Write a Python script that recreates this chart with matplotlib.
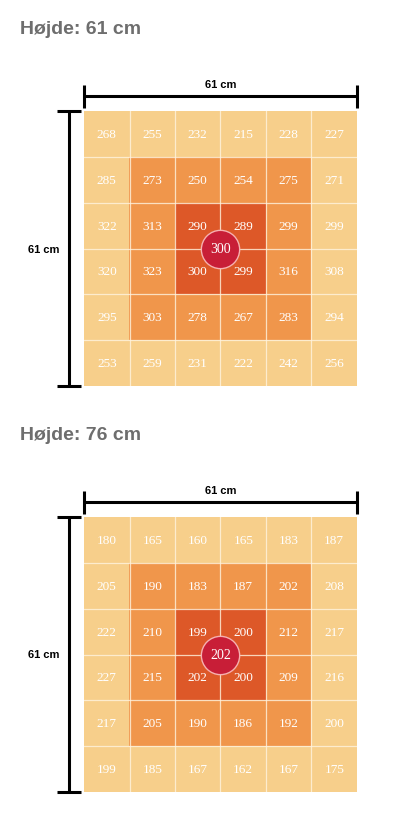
import numpy as np
import matplotlib.pyplot as plt
from matplotlib.colors import ListedColormap

# måleværdier pr. felt (6x6), øverste række først
titles = ["Højde: 61 cm", "Højde: 76 cm"]
grid_61 = [[268, 255, 232, 215, 228, 227],
           [285, 273, 250, 254, 275, 271],
           [322, 313, 290, 289, 299, 299],
           [320, 323, 300, 299, 316, 308],
           [295, 303, 278, 267, 283, 294],
           [253, 259, 231, 222, 242, 256]]
grid_76 = [[180, 165, 160, 165, 183, 187],
           [205, 190, 183, 187, 202, 208],
           [222, 210, 199, 200, 212, 217],
           [227, 215, 202, 200, 209, 216],
           [217, 205, 190, 186, 192, 200],
           [199, 185, 167, 162, 167, 175]]
centers = [300, 202]
side_label = "61 cm"

ring_cmap = ListedColormap(["#f7cf8b", "#f0964b", "#dd5828"])

fig = plt.figure(figsize=(4.03, 8.28), dpi=100)
W, H = 403, 828


def draw_grid(ax, vals, center):
    vals = np.array(vals)
    n = vals.shape[0]
    ii, jj = np.indices(vals.shape)
    ring = np.minimum(np.minimum(ii, jj), np.minimum(n - 1 - ii, n - 1 - jj))
    ax.imshow(ring, cmap=ring_cmap, vmin=-0.5, vmax=2.5,
              extent=(0, n, n, 0), interpolation="nearest", aspect="auto")
    for k in range(1, n):
        ax.axhline(k, color="#fff4e0", lw=0.9, alpha=0.8)
        ax.axvline(k, color="#fff4e0", lw=0.9, alpha=0.8)
    for i in range(n):
        for j in range(n):
            ax.text(j + 0.5, i + 0.5, str(vals[i, j]), ha="center", va="center",
                    color="white", fontsize=9.5, family="Liberation Serif")
    ax.scatter([n / 2], [n / 2], s=760, color="#c81e37", edgecolor="#f6b0b0",
               linewidth=1.0, zorder=5)
    ax.text(n / 2, n / 2, str(center), ha="center", va="center", color="white",
            fontsize=10, family="Liberation Serif", zorder=6)
    ax.set_xlim(0, n)
    ax.set_ylim(n, 0)
    ax.axis("off")

    # mål-linjer
    kw = dict(color="black", lw=2.2, clip_on=False, solid_capstyle="butt")
    ax.plot([0, n], [-0.33, -0.33], **kw)
    ax.plot([0, 0], [-0.57, -0.07], **kw)
    ax.plot([n, n], [-0.57, -0.07], **kw)
    ax.text(n / 2, -0.6, side_label, ha="center", va="center", fontsize=8,
            fontweight="bold", family="Liberation Sans")
    ax.plot([-0.34, -0.34], [0, n], **kw)
    ax.plot([-0.59, -0.07], [0, 0], **kw)
    ax.plot([-0.59, -0.07], [n, n], **kw)
    ax.text(-0.88, n / 2, side_label, ha="center", va="center", fontsize=8,
            fontweight="bold", family="Liberation Sans")


tops = [112, 518]
title_y = [29, 436]
for k, vals in enumerate([grid_61, grid_76]):
    ax = fig.add_axes([84 / W, 1 - (tops[k] + 275) / H, 273 / W, 275 / H])
    draw_grid(ax, vals, centers[k])
    fig.text(20 / W, 1 - title_y[k] / H, titles[k], ha="left", va="center",
             fontsize=14, fontweight="bold", color="#6e6e6e",
             family="Liberation Sans")

fig.savefig("out.png", dpi=100, facecolor="white")
